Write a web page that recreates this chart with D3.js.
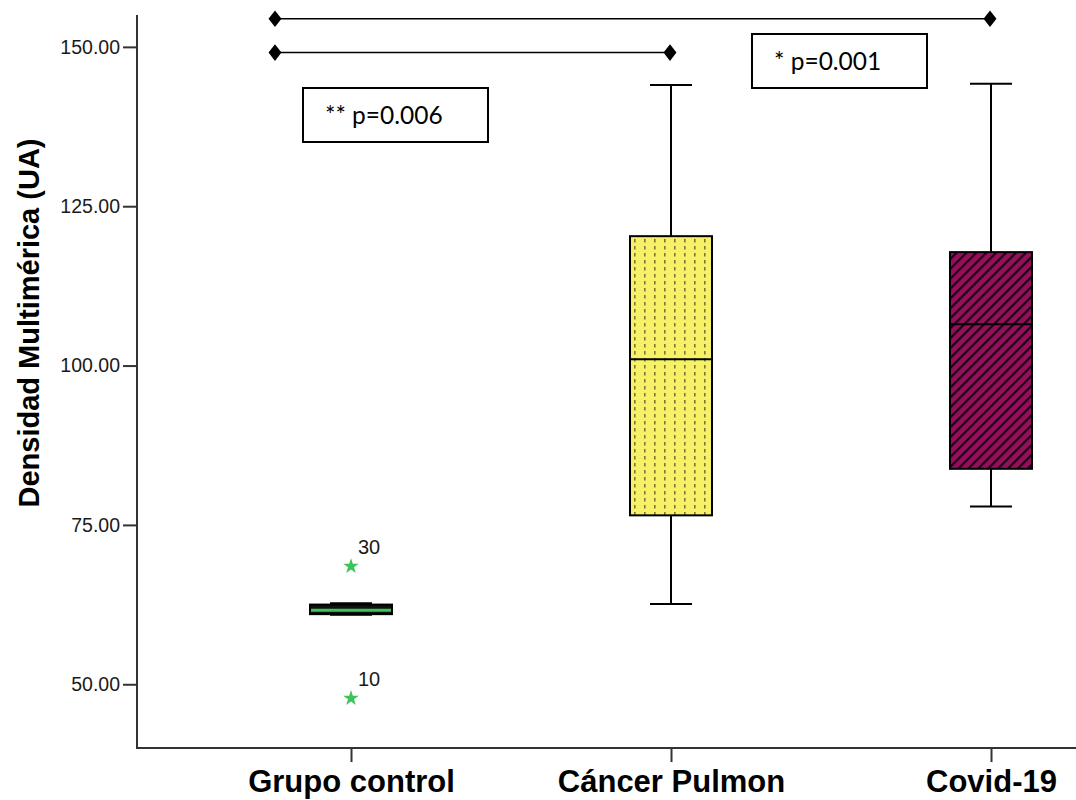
<!DOCTYPE html>
<html>
<head>
<meta charset="utf-8">
<script src="https://cdn.jsdelivr.net/npm/d3@7"></script>
<style>
  html, body { margin: 0; padding: 0; background: #fff; }
  svg { display: block; }
</style>
</head>
<body>
<svg id="chart" width="1076" height="800"></svg>
<script>
// Grupos y estadísticos de cada diagrama de caja
const groups = ["Grupo control", "Cáncer Pulmon", "Covid-19"];
const whiskerLow  = [60.9, 62.6, 77.9];
const q1          = [61.0, 76.5, 83.8];
const median      = [61.6, 101.0, 106.5];
const q3          = [62.5, 120.3, 117.8];
const whiskerHigh = [62.7, 144.0, 144.2];

// Valores atípicos (grupo control)
const outlierGroup = ["Grupo control", "Grupo control"];
const outlierValue = [68.5, 47.8];
const outlierCase  = ["30", "10"];

// Ejes
const yTicks = [50, 75, 100, 125, 150];
const yDomain = [40, 155];

// Comparaciones significativas
const compFrom  = ["Grupo control", "Grupo control"];
const compTo    = ["Covid-19", "Cáncer Pulmon"];
const compLevel = [154.4, 149.1];
const pLabels   = ["** p=0.006", "* p=0.001"];

const svg = d3.select("#chart");

const axisLeftX = 137, axisBottomY = 748;
const x = d3.scalePoint().domain(groups).range([351, 991]);
const y = d3.scaleLinear().domain(yDomain).range([axisBottomY, 15]);

const defs = svg.append("defs");

// Trama punteada vertical (amarillo)
const dots = defs.append("pattern")
  .attr("id", "dotsYellow").attr("patternUnits", "userSpaceOnUse")
  .attr("width", 10).attr("height", 7);
dots.append("rect").attr("width", 10).attr("height", 7).attr("fill", "#f6f167");
dots.append("rect").attr("x", 4).attr("y", 1).attr("width", 1.6).attr("height", 3.5).attr("fill", "#7a7638");

// Trama de rayas diagonales (magenta)
const hatch = defs.append("pattern")
  .attr("id", "hatchMagenta").attr("patternUnits", "userSpaceOnUse")
  .attr("width", 7).attr("height", 7)
  .attr("patternTransform", "rotate(45)");
hatch.append("rect").attr("width", 7).attr("height", 7).attr("fill", "#950f5d");
hatch.append("rect").attr("x", 0).attr("width", 2.2).attr("height", 7).attr("fill", "#1a0010");

const fills = ["#111", "url(#dotsYellow)", "url(#hatchMagenta)"];
const medianColor = ["#3cc35a", "#000", "#000"];

const boxW = 82, capW = 42;

// Ejes
const yAxis = d3.axisLeft(y).tickValues(yTicks).tickFormat(d3.format(".2f")).tickSize(14).tickPadding(3);
const gy = svg.append("g").attr("transform", `translate(${axisLeftX},0)`).call(yAxis);
gy.select(".domain").remove();
gy.selectAll(".tick line").attr("stroke", "#333").attr("stroke-width", 2);
gy.selectAll(".tick text").attr("font-family", "Liberation Sans, Arial, sans-serif")
  .attr("font-size", 19.5).attr("fill", "#1a1a1a");

svg.append("line").attr("x1", axisLeftX).attr("x2", axisLeftX)
  .attr("y1", y(yDomain[1])).attr("y2", axisBottomY + 1)
  .attr("stroke", "#333").attr("stroke-width", 2);
svg.append("line").attr("x1", axisLeftX).attr("x2", 1076)
  .attr("y1", axisBottomY).attr("y2", axisBottomY)
  .attr("stroke", "#333").attr("stroke-width", 2);

const xAxis = d3.axisBottom(x).tickSize(14).tickPadding(8);
const gx = svg.append("g").attr("transform", `translate(0,${axisBottomY})`).call(xAxis);
gx.select(".domain").remove();
gx.selectAll(".tick line").attr("stroke", "#333").attr("stroke-width", 2);
gx.selectAll(".tick text").attr("font-family", "Liberation Sans, Arial, sans-serif")
  .attr("font-size", 31).attr("font-weight", "bold").attr("fill", "#000");

// Título del eje Y
svg.append("text")
  .attr("transform", `translate(39,323) rotate(-90)`)
  .attr("text-anchor", "middle")
  .attr("font-family", "Liberation Sans, Arial, sans-serif")
  .attr("font-size", 29).attr("font-weight", "bold")
  .text("Densidad Multimérica (UA)");

// Diagramas de caja
const boxes = svg.append("g");
groups.forEach((g, i) => {
  const cx = x(g);
  const grp = boxes.append("g");
  grp.append("line").attr("x1", cx).attr("x2", cx)
    .attr("y1", y(whiskerHigh[i])).attr("y2", y(q3[i]))
    .attr("stroke", "#000").attr("stroke-width", 2);
  grp.append("line").attr("x1", cx).attr("x2", cx)
    .attr("y1", y(q1[i])).attr("y2", y(whiskerLow[i]))
    .attr("stroke", "#000").attr("stroke-width", 2);
  [whiskerHigh[i], whiskerLow[i]].forEach(v => {
    grp.append("line").attr("x1", cx - capW / 2).attr("x2", cx + capW / 2)
      .attr("y1", y(v)).attr("y2", y(v))
      .attr("stroke", "#000").attr("stroke-width", 2);
  });
  grp.append("rect")
    .attr("x", cx - boxW / 2).attr("width", boxW)
    .attr("y", y(q3[i])).attr("height", y(q1[i]) - y(q3[i]))
    .attr("fill", fills[i]).attr("stroke", "#000").attr("stroke-width", 2);
  grp.append("line").attr("x1", cx - boxW / 2 + 1).attr("x2", cx + boxW / 2 - 1)
    .attr("y1", y(median[i])).attr("y2", y(median[i]))
    .attr("stroke", medianColor[i]).attr("stroke-width", i === 0 ? 3 : 2);
});

// Valores atípicos extremos
const star = d3.symbol().type(d3.symbolStar).size(75);
outlierValue.forEach((v, i) => {
  const cx = x(outlierGroup[i]);
  svg.append("path").attr("d", star)
    .attr("transform", `translate(${cx},${y(v)})`)
    .attr("fill", "#3cc35a");
  svg.append("text").attr("x", cx + 7).attr("y", y(v) - 12)
    .attr("font-family", "Liberation Sans, Arial, sans-serif")
    .attr("font-size", 20).attr("fill", "#1a1a1a")
    .text(outlierCase[i]);
});

// Líneas de comparación con marcadores en rombo
const diamond = d3.symbol().type(d3.symbolDiamond).size(110);
compLevel.forEach((lv, i) => {
  const x1 = x(compFrom[i]) - 76, x2 = x(compTo[i]) - 1;
  const yy = y(lv);
  svg.append("line").attr("x1", x1).attr("x2", x2).attr("y1", yy).attr("y2", yy)
    .attr("stroke", "#000").attr("stroke-width", 1.5);
  [x1, x2].forEach(xx => {
    svg.append("path").attr("d", diamond)
      .attr("transform", `translate(${xx},${yy}) scale(1.15,0.85)`)
      .attr("fill", "#000");
  });
});

// Cuadros con los valores p
const pBoxes = [
  { x: 303, y: 88, w: 185, h: 54 },
  { x: 752, y: 34, w: 175, h: 54 }
];
pLabels.forEach((t, i) => {
  const b = pBoxes[i];
  svg.append("rect").attr("x", b.x).attr("y", b.y).attr("width", b.w).attr("height", b.h)
    .attr("fill", "#fff").attr("stroke", "#000").attr("stroke-width", 2);
  svg.append("text").attr("x", b.x + 22).attr("y", b.y + 36)
    .attr("font-family", "Lato, Open Sans, sans-serif")
    .attr("font-size", 24.5).attr("fill", "#000")
    .text(t);
});
</script>
</body>
</html>
